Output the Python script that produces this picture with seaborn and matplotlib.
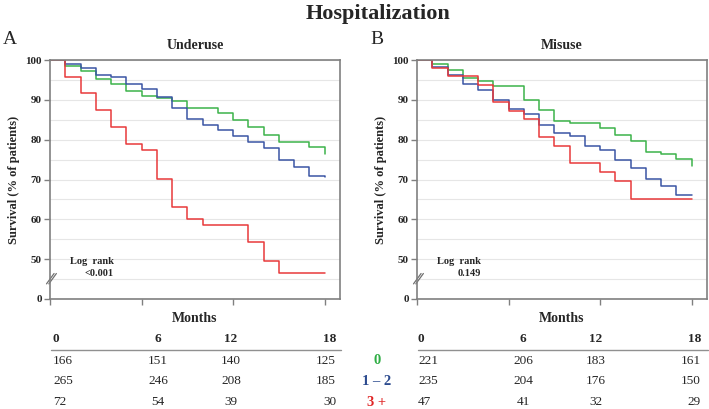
import matplotlib
matplotlib.use("Agg")
import matplotlib.pyplot as plt
import matplotlib.transforms as mtransforms
import seaborn as sns

# Kaplan-Meier step data (months, survival %)
under_green_t = [0, 1, 2, 3, 4, 5, 6, 7, 8, 9, 11, 12, 13, 14, 15, 17, 18]
under_green_s = [100, 98.4, 97.2, 95.3, 94.1, 92.3, 90.9, 90.5, 89.8, 88.0, 86.6, 84.9, 83.1, 81.1, 79.3, 78.1, 76.3]
under_blue_t = [0, 1, 2, 3, 4, 5, 6, 7, 8, 9, 10, 11, 12, 13, 14, 15, 16, 17, 18]
under_blue_s = [100, 98.9, 97.9, 96.2, 95.8, 94.0, 92.8, 90.8, 87.9, 85.2, 83.6, 82.5, 80.9, 79.4, 77.9, 75.0, 73.2, 70.8, 70.7]
under_red_t = [0, 1, 2, 3, 4, 5, 6, 7, 8, 9, 10, 13, 14, 15, 18]
under_red_s = [100, 95.8, 91.7, 87.5, 83.2, 79.0, 77.5, 70.1, 63.1, 60.1, 58.7, 54.2, 49.6, 46.6, 46.6]

mis_green_t = [0, 1, 2, 3, 4, 5, 7, 8, 9, 10, 12, 13, 14, 15, 16, 17, 18]
mis_green_s = [100, 98.9, 97.4, 95.5, 94.8, 93.4, 89.9, 87.4, 84.8, 84.3, 82.9, 81.1, 79.6, 76.9, 76.5, 75.1, 73.4]
mis_blue_t = [0, 1, 2, 3, 4, 5, 6, 7, 8, 9, 10, 11, 12, 13, 14, 15, 16, 17, 18]
mis_blue_s = [100, 98.3, 96.2, 94.1, 92.4, 89.9, 87.7, 86.4, 83.8, 81.7, 80.9, 78.5, 77.3, 75.0, 72.8, 70.1, 68.4, 66.1, 66.1]
mis_red_t = [0, 1, 2, 4, 5, 6, 7, 8, 9, 10, 12, 13, 14, 18]
mis_red_s = [100, 98.0, 95.9, 93.8, 89.5, 87.3, 85.2, 80.7, 78.5, 74.1, 71.8, 69.5, 65.0, 65.0]

# numbers at risk
risk_cols = ["0", "6", "12", "18"]
group_labels = ["0", "1 \u2013 2", "3 +"]
under_risk = [[166, 151, 140, 125], [265, 246, 208, 185], [72, 54, 39, 30]]
mis_risk = [[221, 206, 183, 161], [235, 204, 176, 150], [47, 41, 32, 29]]

GREEN = "#3cb34a"
BLUE = "#3a55a4"
RED = "#e8393a"
label_colors = ["#2fae45", "#2b4a8e", "#e02626"]

sns.set_style("white")
plt.rcParams["font.family"] = ["Liberation Serif", "DejaVu Serif"]

W, H = 709, 409
fig = plt.figure(figsize=(W / 100, H / 100), dpi=100)


def px(x, y):
    return x / W, 1 - y / H


fig.text(*px(378, 14), "Hospitalization", ha="center", va="center",
         fontsize=16, fontweight="bold")

panels = [
    ("A", "Underuse", 50, [(under_green_t, under_green_s, GREEN),
                           (under_blue_t, under_blue_s, BLUE),
                           (under_red_t, under_red_s, RED)],
     "<0.001", under_risk, [53, 158, 231, 336]),
    ("B", "Misuse", 417, [(mis_green_t, mis_green_s, GREEN),
                          (mis_blue_t, mis_blue_s, BLUE),
                          (mis_red_t, mis_red_s, RED)],
     "0.149", mis_risk, [418, 523, 596, 701]),
]

for letter, name, left, series, pval, risk, cols in panels:
    ax = fig.add_axes([left / W, 1 - 299 / H, 290 / W, 239 / H])
    for t, s, c in series:
        sns.lineplot(x=t, y=s, drawstyle="steps-post", color=c, lw=1.1, ax=ax)
    ax.set_xlim(0, 19)
    ax.set_ylim(40, 100)
    ax.set_xticks([0, 6, 12, 18])
    ax.set_xticklabels([])
    ax.set_yticks([40, 50, 60, 70, 80, 90, 100])
    ax.set_yticklabels(["0", "50", "60", "70", "80", "90", "100"],
                       fontweight="bold", fontsize=8)
    ax.set_yticks([45, 55, 65, 75, 85, 95], minor=True)
    ax.grid(True, which="both", axis="y", color="#e6e6e6", lw=0.8)
    ax.tick_params(axis="both", which="major", length=4, width=1,
                   color="#808080", pad=2, left=True, bottom=True)
    ax.tick_params(axis="y", which="minor", length=0)
    for sp in ax.spines.values():
        sp.set_color("#808080")
        sp.set_linewidth(1.2)
    ax.set_xlabel("Months", fontsize=10, fontweight="bold", labelpad=3)
    ax.set_ylabel("Survival (% of patients)", fontsize=9, fontweight="bold",
                  labelpad=4)
    ax.set_title(name, fontsize=10, fontweight="bold", pad=8)

    # axis break marks
    trans = mtransforms.blended_transform_factory(ax.transAxes, ax.transData)
    for dx in (0.0, 0.008):
        ax.plot([-0.012 + dx, 0.014 + dx], [43.8, 46.4], color="#707070",
                lw=0.9, transform=trans, clip_on=False)

    # log rank text
    ax.text(0.22, 49.4, "Log  rank", ha="right", va="center", fontsize=7.5,
            fontweight="bold", transform=trans)
    ax.text(0.22, 46.3, pval, ha="right", va="center", fontsize=7.5,
            fontweight="bold", transform=trans)

    fig.text(*px(left - 47, 40), letter, fontsize=14, ha="left", va="center")

    # numbers-at-risk table
    aligns = ["left", "center", "center", "right"]
    for j, lab in enumerate(risk_cols):
        fig.text(*px(cols[j], 339), lab, ha=aligns[j], va="center",
                 fontsize=9.5, fontweight="bold")
    fig.add_artist(plt.Line2D([(left + 1) / W, (left + 291) / W],
                              [1 - 350 / H, 1 - 350 / H], color="#909090", lw=1))
    for i, row in enumerate(risk):
        for j, v in enumerate(row):
            fig.text(*px(cols[j], 361 + 20.5 * i), str(v), ha=aligns[j],
                     va="center", fontsize=9.5)

for i, lab in enumerate(group_labels):
    fig.text(*px(377, 361 + 20.5 * i), lab, ha="center", va="center",
             fontsize=10.5, fontweight="bold", color=label_colors[i])

fig.savefig("out.png", dpi=100)
